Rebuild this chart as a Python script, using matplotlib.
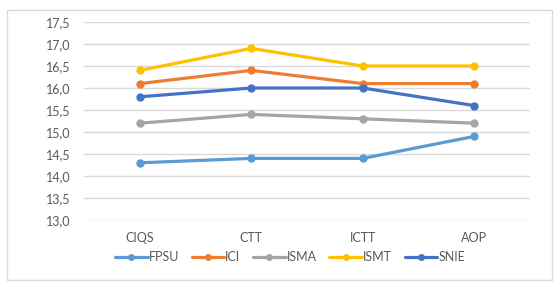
import matplotlib
matplotlib.use("Agg")
import matplotlib.pyplot as plt
from matplotlib.patches import Rectangle
from matplotlib.ticker import FuncFormatter, MultipleLocator

categories = ["CIQS", "CTT", "ICTT", "AOP"]
series_names = ["FPSU", "ICI", "ISMA", "ISMT", "SNIE"]
fpsu = [14.3, 14.4, 14.4, 14.9]
ici = [16.1, 16.4, 16.1, 16.1]
isma = [15.2, 15.4, 15.3, 15.2]
ismt = [16.4, 16.9, 16.5, 16.5]
snie = [15.8, 16.0, 16.0, 15.6]
colors = ["#5B9BD5", "#ED7D31", "#A5A5A5", "#FFC000", "#4472C4"]

plt.rcParams['font.family'] = ['Lato', 'DejaVu Sans']

W, H = 558, 290
fig = plt.figure(figsize=(W / 100, H / 100), dpi=100)
fig.patches.append(Rectangle((7 / W, 1 - 280 / H), 545 / W, 270 / H, transform=fig.transFigure,
                             fill=False, edgecolor="#D9D9D9", linewidth=1.0))
ax = fig.add_axes([84 / W, 1 - 220 / H, 446 / W, 198 / H])

x = list(range(len(categories)))
for name, vals, c in zip(series_names, [fpsu, ici, isma, ismt, snie], colors):
    ax.plot(x, vals, color=c, lw=2.3, marker="o", markersize=5, label=name,
            solid_capstyle="round")

ax.set_xlim(-0.5, len(categories) - 0.5)
ax.set_ylim(13.0, 17.5)
ax.yaxis.set_major_locator(MultipleLocator(0.5))
ax.yaxis.set_major_formatter(FuncFormatter(lambda v, p: f"{v:.1f}".replace(".", ",")))
ax.set_xticks(x)
ax.set_xticklabels(categories)
ax.grid(axis="y", color="#D9D9D9", lw=1)
ax.set_axisbelow(True)
for s in ax.spines.values():
    s.set_visible(False)
ax.tick_params(length=0, colors="#595959", labelsize=9)
ax.tick_params(axis="y", pad=10)
ax.tick_params(axis="x", pad=9)

leg = fig.legend(loc="center", bbox_to_anchor=(290 / W, 1 - 257 / H), ncol=5, frameon=False,
                 fontsize=9, handlelength=2.6, handletextpad=0.1, columnspacing=1.0,
                 labelcolor="#595959", markerscale=0.8)

fig.savefig("out.png", dpi=100)
